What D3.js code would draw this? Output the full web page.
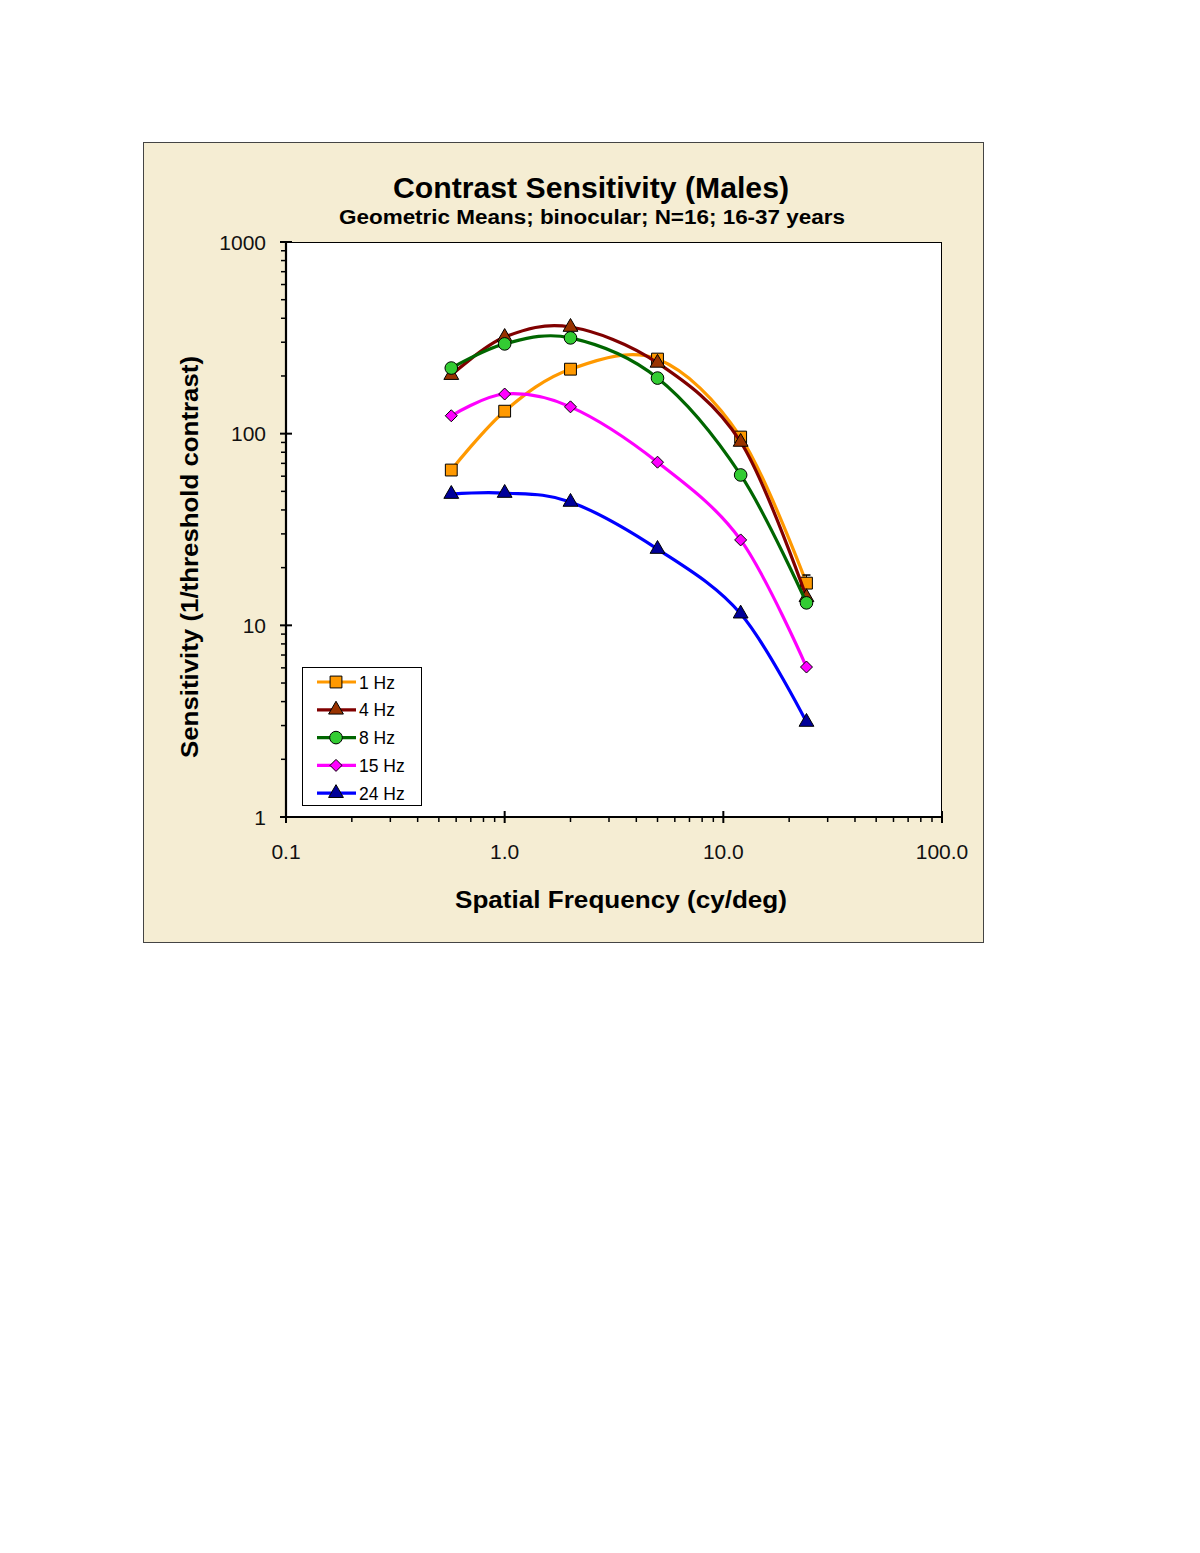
<!DOCTYPE html>
<html lang="en">
<head>
<meta charset="utf-8" />
<title>Contrast Sensitivity (Males)</title>
<script src="https://d3js.org/d3.v7.min.js"></script>
<style>
  body, html { margin: 0; padding: 0; background: #fff; font-family: "Liberation Sans", Arial, sans-serif; }
  .tick-label { font-size: 21px; fill: #111; }
</style>
</head>
<body>
<div id="chart"></div>
<script>
// spatial frequencies (cy/deg)
const freqs = [0.57, 1, 2, 5, 12, 24];
const series = ["1 Hz", "4 Hz", "8 Hz", "15 Hz", "24 Hz"];
const hz1 = [64.6, 131, 217, 245, 96, 16.6];
const hz4 = [202, 319, 360, 234, 90.5, 14];
const hz8 = [220, 294, 316, 195, 60.9, 13.1];
const hz15 = [124, 161, 138, 71, 27.9, 6.06];
const hz24 = [48.4, 49, 44, 25, 11.5, 3.13];
// upper error bar on 1 Hz at 24 cy/deg
const errTop = [{ f: 24, lo: 16.6, hi: 18.3 }];
const xTicks = [0.1, 1, 10, 100];
const xTickLabels = ["0.1", "1.0", "10.0", "100.0"];
const yTicks = [1, 10, 100, 1000];
const yTickLabels = ["1", "10", "100", "1000"];

const values = [hz1, hz4, hz8, hz15, hz24];
const styles = [
  { line: "#FF9900", fill: "#FF9900", shape: "square" },
  { line: "#800000", fill: "#993300", shape: "triangle" },
  { line: "#006600", fill: "#33CC33", shape: "circle" },
  { line: "#FF00FF", fill: "#FF00FF", shape: "diamond" },
  { line: "#0000FF", fill: "#000099", shape: "triangle" }
];

const W = 1200, H = 1553;
const svg = d3.select("#chart").append("svg").attr("width", W).attr("height", H);

// chart area frame
svg.append("rect").attr("x", 143.5).attr("y", 142.5).attr("width", 840).attr("height", 800)
  .attr("fill", "#F5EDD3").attr("stroke", "#444").attr("stroke-width", 1);

const plot = { left: 286, right: 942, top: 242, bottom: 817 };
const x = d3.scaleLog().domain([0.1, 100]).range([plot.left, plot.right]);
const y = d3.scaleLog().domain([1, 1000]).range([plot.bottom, plot.top]);

svg.append("rect").attr("x", plot.left).attr("y", plot.top + 0.5)
  .attr("width", plot.right - plot.left - 0.5).attr("height", plot.bottom - plot.top)
  .attr("fill", "#fff").attr("stroke", "#000").attr("stroke-width", 1);

// titles
svg.append("text").attr("x", 591).attr("y", 198).attr("text-anchor", "middle")
  .attr("font-size", 29).attr("font-weight", "bold")
  .attr("textLength", 396).attr("lengthAdjust", "spacingAndGlyphs")
  .text("Contrast Sensitivity (Males)");
svg.append("text").attr("x", 592).attr("y", 224).attr("text-anchor", "middle")
  .attr("font-size", 20).attr("font-weight", "bold")
  .attr("textLength", 506).attr("lengthAdjust", "spacingAndGlyphs")
  .text("Geometric Means; binocular; N=16; 16-37 years");

// axes
const gx = svg.append("g");
gx.append("line").attr("x1", plot.left - 1).attr("x2", plot.right + 1)
  .attr("y1", plot.bottom).attr("y2", plot.bottom).attr("stroke", "#000").attr("stroke-width", 2.2);
const xMinor = [];
for (let d = 0.1; d < 100; d *= 10) for (let k = 2; k <= 9; k++) xMinor.push(d * k);
gx.selectAll(".xminor").data(xMinor).join("line")
  .attr("x1", d => x(d)).attr("x2", d => x(d))
  .attr("y1", plot.bottom).attr("y2", plot.bottom + 5)
  .attr("stroke", "#000").attr("stroke-width", 1.5);
gx.selectAll(".xmajor").data(xTicks).join("line")
  .attr("x1", d => x(d)).attr("x2", d => x(d))
  .attr("y1", plot.bottom - 6).attr("y2", plot.bottom + 6)
  .attr("stroke", "#000").attr("stroke-width", 2);
gx.selectAll(".xlab").data(xTicks).join("text").attr("class", "tick-label")
  .attr("x", d => x(d)).attr("y", 859).attr("text-anchor", "middle")
  .text((d, i) => xTickLabels[i]);

const gy = svg.append("g");
gy.append("line").attr("x1", plot.left).attr("x2", plot.left)
  .attr("y1", plot.top - 1).attr("y2", plot.bottom + 1).attr("stroke", "#000").attr("stroke-width", 2.2);
const yMinor = [];
for (let d = 1; d < 1000; d *= 10) for (let k = 2; k <= 9; k++) yMinor.push(d * k);
gy.selectAll(".yminor").data(yMinor).join("line")
  .attr("x1", plot.left - 5).attr("x2", plot.left)
  .attr("y1", d => y(d)).attr("y2", d => y(d))
  .attr("stroke", "#000").attr("stroke-width", 1.5);
gy.selectAll(".ymajor").data(yTicks).join("line")
  .attr("x1", plot.left - 6).attr("x2", plot.left + 6)
  .attr("y1", d => y(d)).attr("y2", d => y(d))
  .attr("stroke", "#000").attr("stroke-width", 2);
gy.selectAll(".ylab").data(yTicks).join("text").attr("class", "tick-label")
  .attr("x", 266).attr("y", d => y(d) + 7.5).attr("text-anchor", "end")
  .text((d, i) => yTickLabels[i]);

svg.append("text").attr("x", 621).attr("y", 908).attr("text-anchor", "middle")
  .attr("font-size", 23).attr("font-weight", "bold")
  .attr("textLength", 332).attr("lengthAdjust", "spacingAndGlyphs")
  .text("Spatial Frequency (cy/deg)");
svg.append("text").attr("transform", "translate(198,557) rotate(-90)").attr("text-anchor", "middle")
  .attr("font-size", 23).attr("font-weight", "bold")
  .attr("textLength", 402).attr("lengthAdjust", "spacingAndGlyphs")
  .text("Sensitivity (1/threshold contrast)");

function marker(g, shape, fill) {
  let path;
  if (shape === "square") path = d3.symbol(d3.symbolSquare, 140)();
  else if (shape === "triangle") path = d3.symbol(d3.symbolTriangle, 95)();
  else if (shape === "circle") path = d3.symbol(d3.symbolCircle, 125)();
  else path = "M0,-6L6,0L0,6L-6,0Z";
  g.append("path").attr("d", path)
    .attr("fill", fill).attr("stroke", "#000").attr("stroke-width", 1);
}

const line = d3.line().x(d => x(d[0])).y(d => y(d[1])).curve(d3.curveCatmullRom.alpha(0));

values.forEach((vals, i) => {
  const st = styles[i];
  const pts = freqs.map((f, j) => [f, vals[j]]);
  const g = svg.append("g");
  g.append("path").attr("d", line(pts)).attr("fill", "none")
    .attr("stroke", st.line).attr("stroke-width", 3.2);
  if (i === 0) {
    errTop.forEach(e => {
      g.append("line").attr("x1", x(e.f)).attr("x2", x(e.f)).attr("y1", y(e.lo)).attr("y2", y(e.hi))
        .attr("stroke", "#000").attr("stroke-width", 1);
      g.append("line").attr("x1", x(e.f) - 4).attr("x2", x(e.f) + 4).attr("y1", y(e.hi)).attr("y2", y(e.hi))
        .attr("stroke", "#000").attr("stroke-width", 1.5);
    });
  }
  pts.forEach(p => {
    const m = g.append("g").attr("transform", `translate(${x(p[0])},${y(p[1])})`);
    marker(m, st.shape, st.fill);
  });
});

// legend
const lg = svg.append("g");
lg.append("rect").attr("x", 302.5).attr("y", 667.5).attr("width", 119).attr("height", 138)
  .attr("fill", "#fff").attr("stroke", "#000").attr("stroke-width", 1);
series.forEach((name, i) => {
  const yy = 682 + i * 27.8;
  const st = styles[i];
  lg.append("line").attr("x1", 317).attr("x2", 356).attr("y1", yy).attr("y2", yy)
    .attr("stroke", st.line).attr("stroke-width", 3.2);
  const m = lg.append("g").attr("transform", `translate(336,${yy})`);
  marker(m, st.shape, st.fill);
  lg.append("text").attr("x", 359).attr("y", yy + 6.5).attr("font-size", 17.5).text(name);
});
</script>
</body>
</html>
